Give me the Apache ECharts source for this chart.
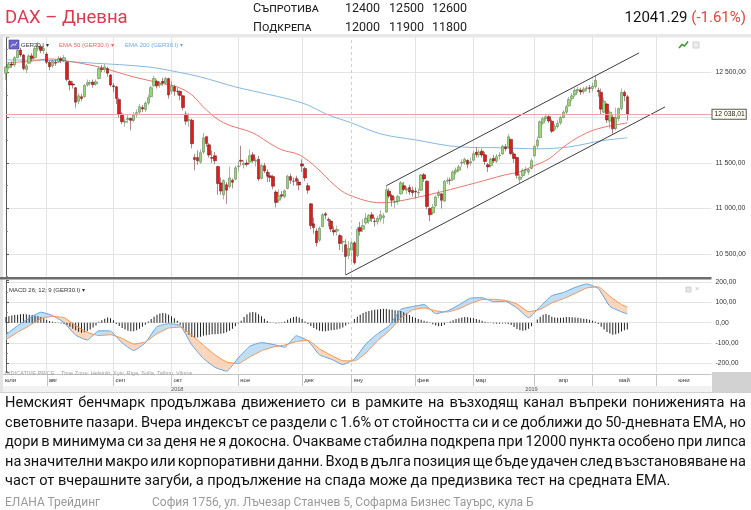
<!DOCTYPE html>
<html lang="bg">
<head>
<meta charset="utf-8">
<title>DAX – Дневна</title>
<script src="https://cdn.jsdelivr.net/npm/echarts@6/dist/echarts.min.js"></script>
<style>
  html, body { margin:0; padding:0; background:#fff; }
  #page { position:relative; width:751px; height:510px; overflow:hidden; font-family: Roboto, "Noto Sans", "DejaVu Sans", sans-serif; color:#111; }
  #chart { position:absolute; left:0; top:0; width:751px; height:510px; }
  .abs { position:absolute; white-space:nowrap; line-height:1; }
  .sc { font-variant: small-caps; font-size:12.5px; color:#222; }
  .lvl { font-size:12.5px; color:#222; }
  .para { position:absolute; left:5px; top:393px; width:741px; font-size:14.6px; line-height:19.5px; color:#111; }
  .jline { display:flex; justify-content:space-between; height:19.5px; white-space:nowrap; }
  .lline { height:19.5px; white-space:nowrap; }
  .foot { position:absolute; top:495px; font-size:12px; color:#9a9a9a; white-space:nowrap; line-height:14px; }
</style>
</head>
<body>
<div id="page">
  <div id="chart"></div>
  <div class="abs" style="left:5px;top:8px;font-size:18.5px;color:#dc3a50;">DAX – Дневна</div>
  <div class="abs sc" style="left:253px;top:2px;">Съпротива</div>
  <div class="abs sc" style="left:253px;top:21px;">Подкрепа</div>
  <div id="levels"></div>
  <div class="abs" id="quote" style="right:5px;top:10px;font-size:15px;color:#111;"></div>
  <div class="para" id="para"></div>
  <div class="foot" style="left:5px;">ЕЛАНА Трейдинг</div>
  <div class="foot" style="left:152px;">София 1756, ул. Лъчезар Станчев 5, Софарма Бизнес Тауърс, кула Б</div>
</div>
<script>
// ---------------- header values ----------------
const resistance = [12400, 12500, 12600];
const support = [12000, 11900, 11800];
const lastQuote = 12041.29;
const lastChangePct = -1.61;
const lastTag = 12038.01;

// ---------------- calendar ----------------
const firstDay = '2018-07-12';
const axisDays = 244;
const closedDays = ['2018-12-24','2018-12-25','2018-12-26','2018-12-31','2019-01-01','2019-04-19','2019-04-22','2019-05-01'];
const monthNames = ['яну','фев','мар','апр','май','юни','юли','авг','сеп','окт','ное','дек'];
const centeredMonths = ['апр','май','юни'];

// ---------------- daily candles [open, close, low, high] ----------------
const jul18 = [
[12490,12555,12415,12570],[12550,12590,12530,12610],[12590,12580,12550,12620],[12580,12660,12560,12680],
[12660,12740,12650,12760],[12745,12690,12670,12770],[12690,12540,12520,12700],[12530,12570,12490,12590],
[12600,12680,12590,12700],[12680,12650,12620,12710],[12660,12760,12650,12790],[12760,12780,12730,12836],
[12780,12740,12710,12800],[12740,12760,12700,12790]];
const aug18 = [
[12700,12610,12590,12720],[12610,12560,12520,12630],[12570,12620,12550,12640],[12610,12600,12570,12640],
[12610,12650,12600,12680],[12650,12630,12600,12670],[12630,12660,12610,12690],[12610,12420,12400,12620],
[12400,12360,12300,12420],[12370,12360,12320,12400],[12330,12170,12110,12340],[12180,12240,12150,12270],
[12230,12210,12180,12260],[12230,12355,12220,12370],[12360,12385,12340,12420],[12380,12385,12350,12410],
[12390,12365,12330,12420],[12370,12395,12350,12420],[12430,12540,12420,12560],[12540,12530,12500,12580],
[12530,12560,12500,12590],[12540,12490,12450,12560],[12470,12360,12340,12480]];
const sep18 = [
[12350,12340,12280,12380],[12340,12210,12150,12350],[12200,12040,12000,12220],[12040,11955,11930,12060],
[11950,11960,11900,11990],[11980,11990,11940,12040],[11990,11970,11860,12000],[11970,12030,11950,12060],
[12030,12055,12000,12090],[12060,12120,12040,12150],[12110,12095,12060,12140],[12090,12160,12060,12180],
[12160,12220,12140,12250],[12230,12330,12220,12350],[12350,12430,12340,12460],[12400,12350,12320,12420],
[12360,12375,12330,12400],[12400,12385,12350,12440],[12380,12430,12360,12450],[12430,12250,12210,12440]];
const oct18 = [
[12290,12346,12260,12400],[12340,12290,12240,12360],[12290,12287,12250,12330],[12290,12244,12190,12300],
[12240,12110,12080,12250],[12040,11960,11920,12070],[11970,11977,11900,12050],[11970,11712,11660,11990],
[11560,11539,11420,11600],[11560,11524,11480,11640],[11510,11614,11490,11650],[11620,11777,11600,11830],
[11790,11715,11680,11800],[11700,11589,11560,11720],[11560,11553,11500,11640],[11580,11524,11490,11620],
[11460,11274,11150,11470],[11280,11191,11150,11340],[11150,11307,11100,11320],[11260,11201,11050,11290],
[11240,11335,11220,11460],[11310,11287,11220,11330],[11320,11447,11310,11470]];
const nov18 = [
[11460,11468,11410,11520],[11530,11519,11470,11690],[11480,11495,11440,11530],[11500,11485,11460,11540],
[11510,11579,11490,11650],[11590,11527,11500,11620],[11520,11529,11460,11560],[11540,11325,11300,11580],
[11330,11472,11320,11490],[11470,11413,11390,11500],[11400,11353,11290,11430],[11360,11341,11290,11400],
[11350,11245,11210,11370],[11180,11066,11010,11200],[11090,11139,11060,11210],[11150,11138,11110,11190],
[11130,11193,11110,11210],[11220,11355,11210,11370],[11350,11309,11270,11380],[11300,11299,11250,11340],
[11330,11298,11250,11360],[11290,11257,11200,11320]];
const dec18 = [
[11490,11466,11400,11540],[11440,11335,11300,11460],[11250,11201,11160,11280],[11050,10811,10770,11060],
[10830,10788,10720,10900],[10750,10622,10580,10780],[10650,10780,10630,10800],[10800,10931,10790,10950],
[10940,10925,10880,10960],[10880,10866,10800,10900],[10860,10772,10740,10880],[10760,10740,10700,10800],
[10750,10767,10700,10810],[10700,10612,10540,10720],[10630,10634,10520,10700],[10600,10470,10267,10660],
[10480,10560,10440,10640]];
const jan19 = [
[10540,10620,10400,10650],[10620,10400,10380,10640],[10480,10770,10460,10800],[10790,10747,10700,10850],
[10770,10810,10740,10880],[10840,10893,10820,10950],[10860,10921,10830,10940],[10930,10890,10850,10960],
[10860,10856,10800,10900],[10850,10891,10820,10920],[10880,10931,10850,10980],[10900,10918,10830,10950],
[10960,11205,10950,11250],[11190,11136,11110,11220],[11140,11090,11020,11160],[11070,11071,11000,11130],
[11080,11130,11040,11150],[11160,11281,11150,11300],[11250,11210,11190,11290],[11200,11218,11160,11240],
[11230,11181,11150,11260],[11200,11173,11130,11240]];
const feb19 = [
[11190,11180,11110,11230],[11170,11176,11130,11220],[11200,11367,11190,11380],[11370,11325,11290,11390],
[11300,11020,10990,11310],[11000,10930,10860,11010],[10950,11014,10930,11050],[11030,11126,11010,11140],
[11140,11167,11110,11200],[11160,11089,11000,11170],[11080,11299,11070,11310],[11300,11309,11270,11340],
[11310,11309,11260,11340],[11320,11401,11300,11420],[11400,11423,11370,11450],[11420,11457,11400,11480],
[11500,11505,11460,11540],[11510,11540,11480,11560],[11530,11487,11440,11540],[11500,11515,11470,11560]];
const mar19 = [
[11530,11602,11520,11630],[11620,11592,11560,11670],[11590,11620,11560,11650],[11630,11588,11560,11660],
[11590,11517,11480,11620],[11480,11457,11400,11500],[11470,11543,11450,11560],[11550,11524,11500,11590],
[11520,11572,11500,11600],[11580,11587,11540,11620],[11600,11685,11590,11700],[11680,11657,11630,11710],
[11670,11788,11660,11820],[11760,11603,11590,11770],[11600,11550,11500,11620],[11560,11364,11330,11570],
[11320,11346,11275,11380],[11360,11419,11340,11440],[11420,11428,11380,11460],[11400,11428,11370,11440],
[11440,11526,11430,11550]];
const apr19 = [
[11580,11681,11570,11700],[11690,11754,11660,11790],[11780,11954,11770,11970],[11940,11988,11920,12010],
[11990,12009,11960,12044],[12010,11963,11940,12040],[11960,11850,11830,11980],[11870,11905,11850,11930],
[11900,11935,11880,11970],[11940,11999,11920,12020],[12000,12060,11990,12080],[12060,12120,12040,12140],
[12130,12200,12120,12230],[12210,12240,12180,12270],[12250,12300,12230,12330],[12300,12310,12270,12340],
[12300,12282,12250,12330],[12290,12315,12260,12340],[12320,12328,12290,12350],[12330,12320,12270,12360]];
const may19 = [
[12320,12345,12290,12380],[12340,12412,12320,12467],[12300,12286,12230,12330],[12280,12093,12040,12320],
[12060,12180,12050,12220],[12150,11974,11940,12160],[11960,12059,11880,12080],[12000,11877,11822,12030],
[11880,12000,11860,12110],[11990,12099,11960,12110],[12100,12278,12080,12322],[12280,12239,12180,12300],
[12230,12041,11967,12250]];

// ---------------- moving averages [dayIndex, value] ----------------
const ema50 = [[0,12602],[9,12624],[15,12646],[21,12624],[32,12558],[44,12448],[53,12382],[59,12338],
[64,12250],[69,12085],[75,11942],[85,11832],[90,11733],[95,11645],[101,11590],[107,11447],[113,11260],
[118,11150],[129,11062],[134,11073],[141,11117],[150,11183],[162,11283],[172,11370],[177,11403],
[181,11458],[187,11546],[193,11700],[200,11832],[205,11887],[210,11920],[214,11942]];
const ema200 = [[0,12635],[9,12635],[29,12602],[49,12558],[59,12503],[67,12448],[79,12338],[85,12294],
[102,12162],[111,12030],[119,11942],[129,11821],[141,11755],[156,11678],[171,11667],[183,11656],
[194,11678],[205,11744],[214,11777]];

// ---------------- trend channel (drawn lines) ----------------
const channelUpper = [[131,11250],[218,12712]];
const channelLower = [[117,10267],[227,12118]];

// ---------------- MACD 26;12;9 ----------------
const macdIdx = [0,4,8,12,16,20,24,28,32,36,40,44,48,52,56,60,64,68,72,76,80,84,88,92,96,100,104,108,112,116,
120,124,128,132,136,140,144,148,152,156,160,164,168,172,176,180,184,188,192,196,200,204,208,212,214];
const macdLine = [-60,-15,22,52,36,0,-62,-86,-40,-42,-100,-138,-100,-20,-5,-14,-110,-178,-222,-241,-175,-117,-99,-108,-122,-65,
-90,-160,-181,-208,-180,-105,-55,-15,66,80,90,45,58,88,122,124,104,106,73,25,80,134,150,175,192,170,81,54,43];
const signalLine = [-84,-48,-15,20,31,25,-14,-48,-64,-60,-78,-106,-96,-55,-27,-22,-62,-112,-160,-195,-203,-170,-140,-121,-111,-94,
-88,-130,-162,-189,-190,-150,-90,-40,22,63,73,59,53,69,95,115,116,111,93,55,66,98,119,145,172,178,131,90,78];
const macdHist = [
28,32,36,38,40,42,43,42,40,38,35,32,28,22,15,
8,4,2,-2,-4,-6,
-12,-20,-30,-38,-45,-50,-48,-42,-34,-24,-14,
4,12,20,26,22,12,
-6,-16,-26,-34,-40,-43,-42,-38,-30,-20,-10,
6,18,30,40,46,48,46,40,32,22,10,
-10,-28,-45,-60,-70,-76,-74,-70,-65,-62,-60,-58,-57,-56,-55,-52,-48,-40,-30,-18,
-4,10,28,42,50,53,50,42,32,20,8,
2,-2,-4,-3,2,6,
14,22,28,31,26,18,
6,-6,
-16,-26,-34,-40,-43,-42,-40,-38,-36,-34,-30,-24,-14,
-4,6,18,30,40,48,54,58,62,64,66,68,69,68,66,64,62,60,58,
52,45,38,30,24,
18,14,10,6,2,
-8,-14,-18,-16,-10,
-2,6,12,18,22,26,28,27,25,22,18,14,10,
4,2,-2,-4,-5,-5,-4,-4,-6,
-12,-22,-32,-38,-40,-38,-30,-18,
0,16,30,40,43,38,30,
26,24,24,26,28,28,27,26,24,22,20,18,14,10,
4,-6,-20,-34,-46,-54,-60,-58,-52,-44,-38,-34];

// ---------------- text ----------------
const paragraphLines = [
 'Немският бенчмарк продължава движението си в рамките на възходящ канал въпреки пониженията на',
 'световните пазари. Вчера индексът се раздели с 1.6% от стойността си и се доближи до 50-дневната EMA, но',
 'дори в минимума си за деня не я докосна. Очакваме стабилна подкрепа при 12000 пункта особено при липса',
 'на значителни макро или корпоративни данни. Вход в дълга позиция ще бъде удачен след възстановяване на',
 'част от вчерашните загуби, а продължение на спада може да предизвика тест на средната EMA.'
];

// ================= build =================
function tradingDays(start, count, closed) {
  const out = []; const d = new Date(start + 'T12:00:00Z');
  while (out.length < count) {
    const iso = d.toISOString().slice(0, 10); const wd = d.getUTCDay();
    if (wd !== 0 && wd !== 6 && closed.indexOf(iso) < 0) out.push(iso);
    d.setUTCDate(d.getUTCDate() + 1);
  }
  return out;
}
const days = tradingDays(firstDay, axisDays, closedDays);
const candles = [].concat(jul18, aug18, sep18, oct18, nov18, dec18, jan19, feb19, mar19, apr19, may19);

const monthStarts = []; let yearIdx = -1;
for (let i = 1; i < days.length; i++) {
  if (days[i].slice(5, 7) !== days[i - 1].slice(5, 7)) monthStarts.push(i);
  if (days[i].slice(0, 4) !== days[i - 1].slice(0, 4)) yearIdx = i;
}
const monthLineSet = new Set(monthStarts.filter(i => i !== yearIdx));

function fmtNum(v) {
  const s = (Math.round(v * 100) / 100).toFixed(2);
  const neg = s[0] === '-';
  const [ip, dp] = s.replace('-', '').split('.');
  return (neg ? '-' : '') + ip.replace(/\B(?=(\d{3})+(?!\d))/g, ' ') + ',' + dp;
}

// header HTML
(function () {
  const lv = document.getElementById('levels');
  const xs = [345, 389, 432];
  resistance.forEach((v, k) => { const e = document.createElement('div'); e.className = 'abs lvl'; e.style.left = xs[k] + 'px'; e.style.top = '2px'; e.textContent = v; lv.appendChild(e); });
  support.forEach((v, k) => { const e = document.createElement('div'); e.className = 'abs lvl'; e.style.left = xs[k] + 'px'; e.style.top = '21px'; e.textContent = v; lv.appendChild(e); });
  const q = document.getElementById('quote');
  q.innerHTML = lastQuote.toFixed(2) + ' <span style="color:#e0443f">(' + lastChangePct.toFixed(2) + '%)</span>';
  const p = document.getElementById('para');
  paragraphLines.forEach((line, k) => {
    const d = document.createElement('div');
    if (k < paragraphLines.length - 1) {
      d.className = 'jline';
      line.split(' ').forEach(w => { const s = document.createElement('span'); s.textContent = w; d.appendChild(s); });
    } else { d.className = 'lline'; d.textContent = line; }
    p.appendChild(d);
  });
})();

// MACD/signal band segments (built from the two read-off lines)
const bandSegs = [];
for (let k = 0; k < macdIdx.length - 1; k++) {
  bandSegs.push([macdIdx[k], macdIdx[k + 1], macdLine[k], macdLine[k + 1], signalLine[k], signalLine[k + 1]]);
}
const BLUE_FILL = 'rgba(150,200,240,0.6)';
const ORANGE_FILL = 'rgba(248,196,160,0.7)';
function renderBand(params, api) {
  const x0 = api.value(0), x1 = api.value(1), m0 = api.value(2), m1 = api.value(3), s0 = api.value(4), s1 = api.value(5);
  const d0 = m0 - s0, d1 = m1 - s1;
  const poly = (pts, pos) => ({ type: 'polygon', shape: { points: pts.map(p => api.coord(p)) }, style: { fill: pos ? BLUE_FILL : ORANGE_FILL } });
  if (d0 * d1 >= 0) return poly([[x0, m0], [x1, m1], [x1, s1], [x0, s0]], (d0 + d1) >= 0);
  const t = d0 / (d0 - d1), xc = x0 + t * (x1 - x0), yc = m0 + t * (m1 - m0);
  return { type: 'group', children: [poly([[x0, m0], [xc, yc], [x0, s0]], d0 > 0), poly([[xc, yc], [x1, m1], [x1, s1]], d1 > 0)] };
}

const FONT = 'Liberation Sans, Arial, sans-serif';
function catAxis(g) {
  return { type: 'category', gridIndex: g, data: days, boundaryGap: false,
    axisLine: { show: false }, axisTick: { show: false }, axisLabel: { show: false },
    splitLine: { show: true, interval: (i) => monthLineSet.has(i), lineStyle: { color: '#e2e2e2', width: 1 } } };
}
function valAxis(g) { return { type: 'value', gridIndex: g, min: 0, max: days.length - 1, show: false }; }
function yAx(g, min, max, fmt) {
  return { type: 'value', gridIndex: g, position: 'right', min: min, max: max, splitNumber: 5,
    axisLine: { show: true, lineStyle: { color: '#5a5a5a' } },
    axisTick: { show: true, length: 3, lineStyle: { color: '#5a5a5a' } },
    minorTick: { show: true, splitNumber: 2, length: 2, lineStyle: { color: '#888' } },
    axisLabel: { fontSize: 6.8, color: '#333', margin: 4, fontFamily: FONT, showMinLabel: false, showMaxLabel: false, formatter: fmt },
    splitLine: { show: true, showMinLine: false, showMaxLine: false, lineStyle: { color: '#e4e4e4' } } };
}

const chart = echarts.init(document.getElementById('chart'), null, { renderer: 'canvas' });
const option = {
  animation: false,
  textStyle: { fontFamily: FONT },
  grid: [
    { left: 6, right: 39.5, top: 37, height: 240 },
    { left: 6, right: 39.5, top: 280, height: 92 }
  ],
  xAxis: [catAxis(0), valAxis(0), catAxis(1), valAxis(1)],
  yAxis: [
    yAx(0, 10244, 12888, v => (Math.abs(v - 12000) < 1 ? '' : fmtNum(v))),
    yAx(1, -245, 212, v => fmtNum(v))
  ],
  series: [
    { name: 'EMA 200', type: 'line', xAxisIndex: 1, yAxisIndex: 0, data: ema200, smooth: 0.35, symbol: 'none', z: 1,
      lineStyle: { color: '#86b7e0', width: 1 } },
    { name: 'EMA 50', type: 'line', xAxisIndex: 1, yAxisIndex: 0, data: ema50, smooth: 0.35, symbol: 'none', z: 1,
      lineStyle: { color: '#ea766d', width: 1 } },
    { name: 'GER30.I', type: 'candlestick', xAxisIndex: 0, yAxisIndex: 0, data: candles, barWidth: 3,
      itemStyle: { color: '#96d674', color0: '#e01c1c', borderColor: '#55704a', borderColor0: '#5a1414', borderWidth: 0.5 },
      markLine: { silent: true, symbol: ['none', 'none'], animation: false,
        data: [
          { yAxis: lastTag, lineStyle: { color: '#f2a2a2', width: 1, type: 'solid' },
            label: { show: true, position: 'end', distance: 1, formatter: fmtNum(lastTag), fontSize: 6.8, color: '#222', fontFamily: FONT,
              backgroundColor: '#fffff4', borderColor: '#555', borderWidth: 1, padding: [1, 1, 1, 2] } },
          { xAxis: days[yearIdx], lineStyle: { color: '#cfcfcf', width: 1, type: [3, 3] }, label: { show: false } }
        ] } },
    { name: 'channelUpper', type: 'line', xAxisIndex: 1, yAxisIndex: 0, data: channelUpper, symbol: 'none', z: 3,
      lineStyle: { color: '#3d3d3d', width: 1 } },
    { name: 'channelLower', type: 'line', xAxisIndex: 1, yAxisIndex: 0, data: channelLower, symbol: 'none', z: 3,
      lineStyle: { color: '#3d3d3d', width: 1 } },
    { name: 'band', type: 'custom', xAxisIndex: 3, yAxisIndex: 1, data: bandSegs, renderItem: renderBand, silent: true, z: 1,
      encode: { x: [0, 1], y: [2, 3, 4, 5] } },
    { name: 'hist', type: 'bar', xAxisIndex: 2, yAxisIndex: 1, data: macdHist, barWidth: 1, z: 2, itemStyle: { color: '#202020' },
      markLine: { silent: true, symbol: ['none', 'none'], animation: false,
        data: [{ xAxis: days[yearIdx], lineStyle: { color: '#cfcfcf', width: 1, type: [3, 3] }, label: { show: false } }] } },
    { name: 'MACD', type: 'line', xAxisIndex: 3, yAxisIndex: 1, data: macdIdx.map((x, k) => [x, macdLine[k]]),
      smooth: 0.15, symbol: 'none', z: 3, lineStyle: { color: '#62a0da', width: 1 } },
    { name: 'Signal', type: 'line', xAxisIndex: 3, yAxisIndex: 1, data: macdIdx.map((x, k) => [x, signalLine[k]]),
      smooth: 0.15, symbol: 'none', z: 3, lineStyle: { color: '#ef9452', width: 1 } }
  ]
};
chart.setOption(option);

// ---------- frame, legends and the date rows ----------
function txt(text, x, y, size, fill, align) {
  return { type: 'text', z: 20, silent: true, style: { text: text, x: x, y: y, fontSize: size, fontFamily: FONT, fill: fill,
    textAlign: align || 'left', align: align || 'left', textVerticalAlign: 'middle', verticalAlign: 'middle' } };
}
function rect(x, y, w, h, fill, z) { return { type: 'rect', z: z || 15, silent: true, shape: { x: x, y: y, width: w, height: h }, style: { fill: fill } }; }
function line(x1, y1, x2, y2, stroke, z) { return { type: 'line', z: z || 16, silent: true, shape: { x1: x1, y1: y1, x2: x2, y2: y2 }, style: { stroke: stroke, lineWidth: 1 } }; }

const px = i => chart.convertToPixel({ xAxisIndex: 0 }, days[i]);
const rightEdge = px(days.length - 1);
const g = [];
g.push(rect(0, 34, 751, 3.5, '#e8e8e8'));
g.push(rect(0, 34, 3, 358, '#e4e4e4'));
g.push(rect(0, 277, rightEdge, 2.6, '#6d6d6d'));
g.push(rect(3, 374.5, rightEdge - 3, 11.5, '#ffffff'));
g.push(line(3, 374.5, rightEdge, 374.5, '#c4c4c4'));
g.push(rect(3, 386, rightEdge - 3, 6, '#f2f2f2'));
g.push(rect(rightEdge + 0.5, 372, 751 - rightEdge, 20, '#d2d2d2'));
g.push(line(0, 392.5, 751, 392.5, '#d0d0d0'));
// price legend
g.push({ type: 'rect', z: 20, silent: true, shape: { x: 9, y: 40, width: 10, height: 9 }, style: { fill: '#6e62c4', stroke: '#4a3fa0', lineWidth: 0.6 } });
g.push({ type: 'polyline', z: 21, silent: true, shape: { points: [[11, 47], [13, 44], [15, 45.5], [17, 42]] }, style: { stroke: '#fff', lineWidth: 0.8, fill: null } });
g.push(txt('GER30.I ▾', 21, 45, 6, '#333'));
g.push(txt('EMA 50 (GER30.I) ▾', 59, 45, 6, '#e0655d'));
g.push(txt('EMA 200 (GER30.I) ▾', 125, 45, 6, '#6fa8dc'));
// small tool icons
g.push({ type: 'polyline', z: 21, silent: true, shape: { points: [[679, 48], [682, 44.5], [684.5, 46], [688, 41.5]] }, style: { stroke: '#3d9a35', lineWidth: 1.6, fill: null } });
g.push({ type: 'rect', z: 21, silent: true, shape: { x: 693, y: 42, width: 6, height: 6 }, style: { fill: '#eeeeee', stroke: '#c6c6c6', lineWidth: 0.8 } });
g.push({ type: 'rect', z: 21, silent: true, shape: { x: 686, y: 287, width: 5, height: 5 }, style: { fill: '#e6e6e6', stroke: '#c8c8c8', lineWidth: 0.8 } });
g.push(txt('×', 697, 289.5, 7, '#bdbdbd', 'center'));
// MACD title & footnote
g.push(txt('MACD 26; 12; 9 (GER30.I) ▾', 9, 290, 6, '#333'));
g.push(txt('INDICATIVE PRICE', 5, 373.3, 5.6, '#a0a0a0'));
g.push(txt('Time Zone: Helsinki, Kyiv, Riga, Sofia, Tallinn, Vilnius', 61, 373.3, 5.6, '#a0a0a0'));
// month row
const starts = [0].concat(monthStarts);
starts.forEach((s, k) => {
  const name = monthNames[parseInt(days[s].slice(5, 7), 10) - 1];
  const x0 = k === 0 ? 3 : px(s);
  const x1 = k + 1 < starts.length ? px(starts[k + 1]) : rightEdge;
  if (k > 0) g.push(line(Math.round(x0) + 0.5, 374.5, Math.round(x0) + 0.5, 386, '#c4c4c4'));
  if (centeredMonths.indexOf(name) >= 0) g.push(txt(name, (x0 + x1) / 2, 380.5, 6, '#333', 'center'));
  else g.push(txt(name, x0 + 2, 380.5, 6, '#333'));
});
// year row
const yx = px(yearIdx);
g.push(line(Math.round(yx) + 0.5, 386, Math.round(yx) + 0.5, 392, '#c4c4c4'));
g.push(txt(days[0].slice(0, 4), (3 + yx) / 2, 389.2, 5.6, '#555', 'center'));
g.push(txt(days[yearIdx].slice(0, 4), (yx + rightEdge) / 2, 389.2, 5.6, '#555', 'center'));
chart.setOption({ graphic: { elements: g } });
</script>
</body>
</html>
